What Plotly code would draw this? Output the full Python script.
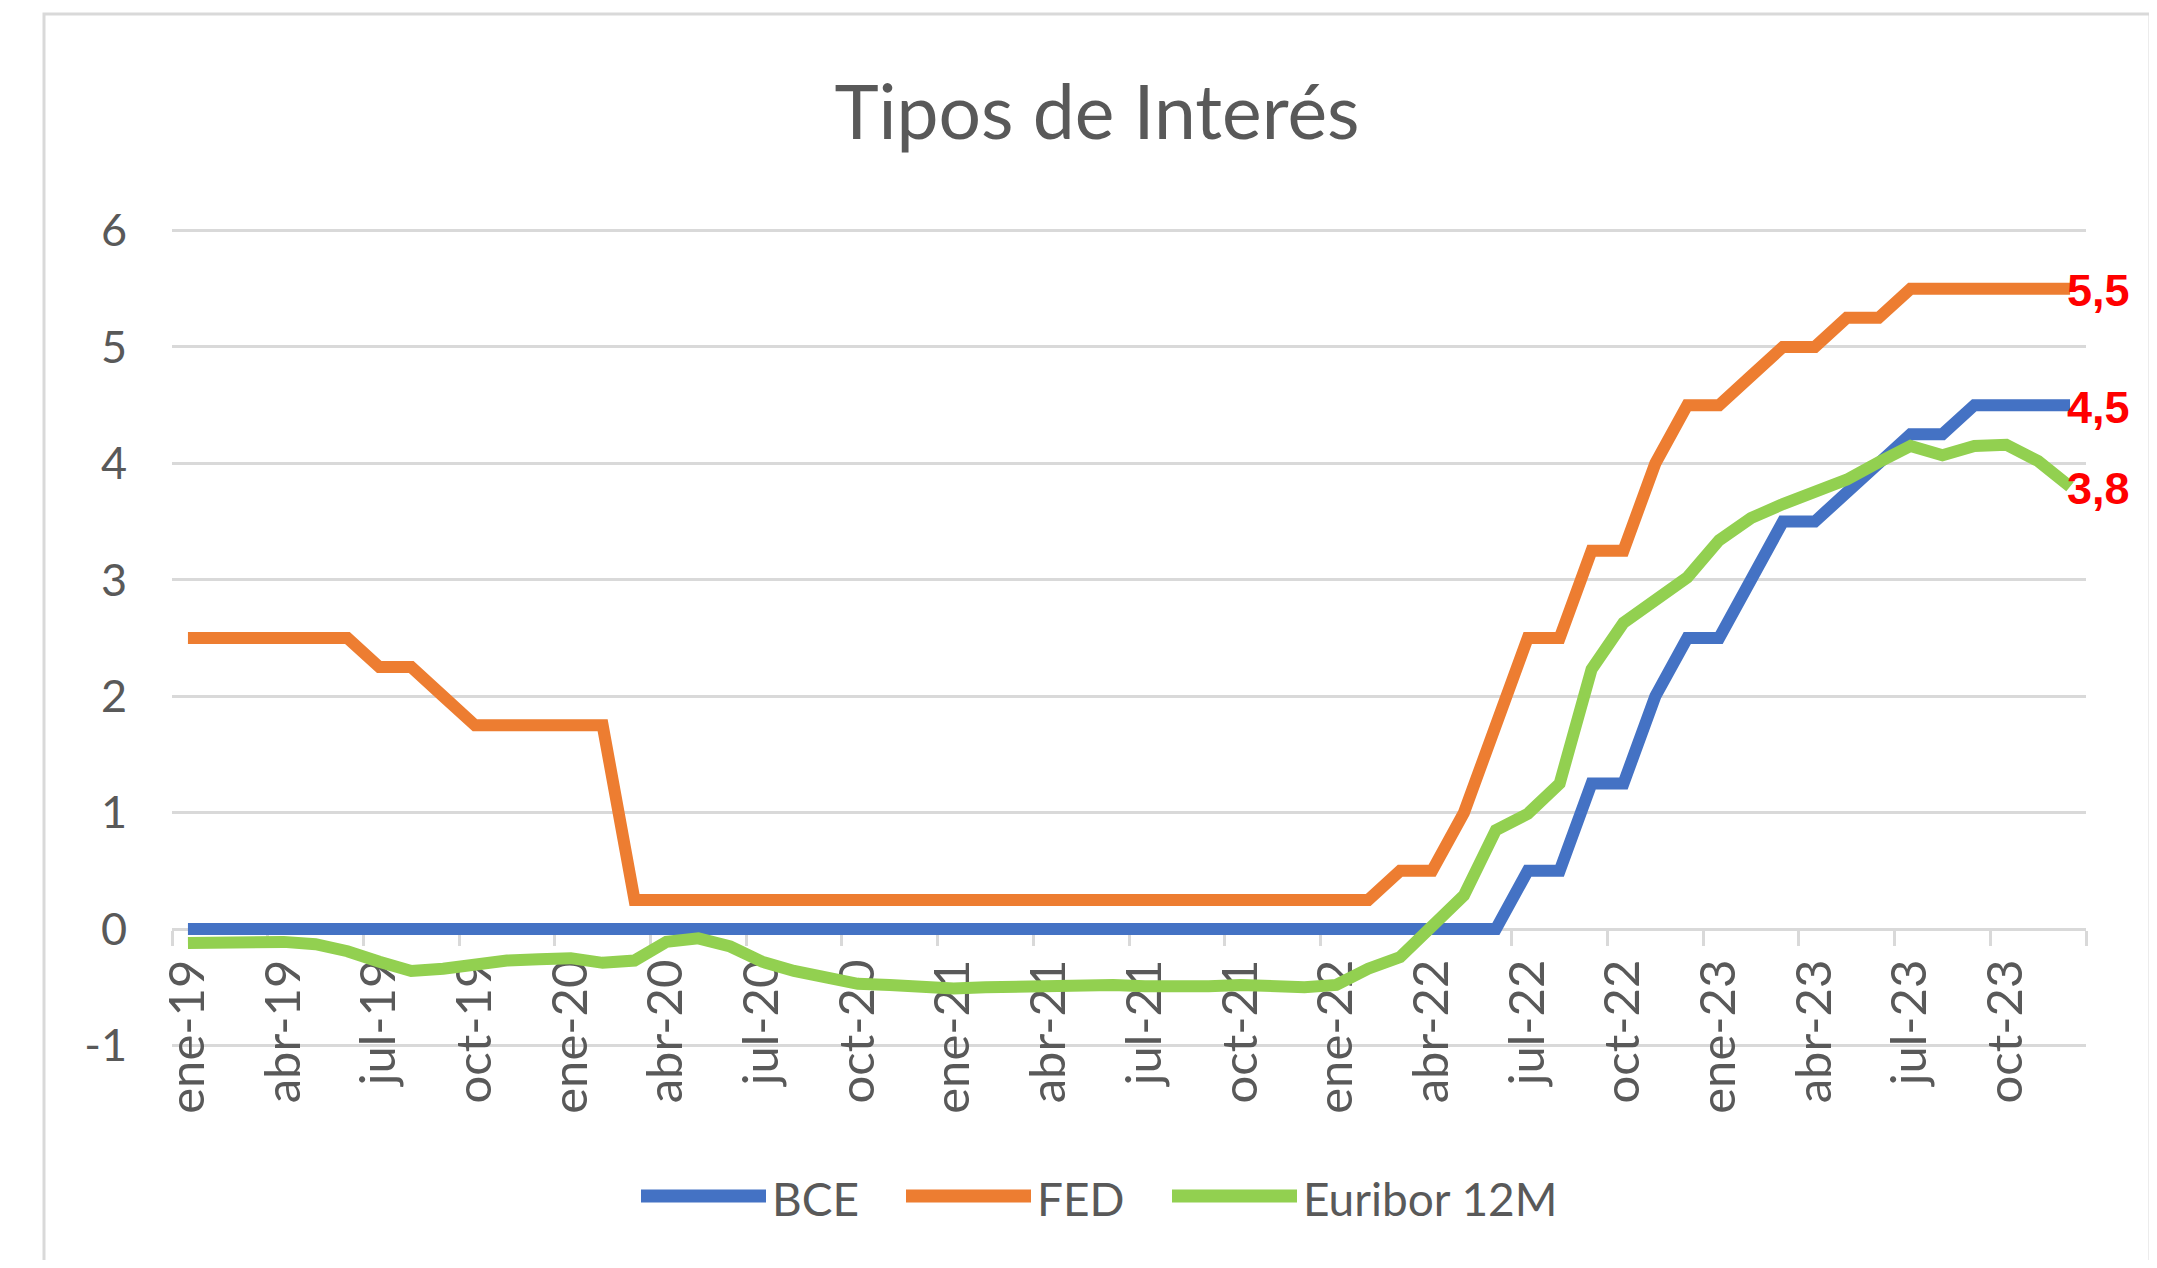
import plotly.graph_objects as go

# ---------------- data ----------------
month_abbr = ["ene", "feb", "mar", "abr", "may", "jun", "jul", "ago", "sep", "oct", "nov", "dic"]
years = ["19", "20", "21", "22", "23"]
months = [f"{m}-{y}" for y in years for m in month_abbr]

bce = [
    0, 0, 0, 0, 0, 0, 0, 0, 0, 0, 0, 0,
    0, 0, 0, 0, 0, 0, 0, 0, 0, 0, 0, 0,
    0, 0, 0, 0, 0, 0, 0, 0, 0, 0, 0, 0,
    0, 0, 0, 0, 0, 0, 0.5, 0.5, 1.25, 1.25, 2.0, 2.5,
    2.5, 3.0, 3.5, 3.5, 3.75, 4.0, 4.25, 4.25, 4.5, 4.5, 4.5, 4.5,
]
fed = [
    2.5, 2.5, 2.5, 2.5, 2.5, 2.5, 2.25, 2.25, 2.0, 1.75, 1.75, 1.75,
    1.75, 1.75, 0.25, 0.25, 0.25, 0.25, 0.25, 0.25, 0.25, 0.25, 0.25, 0.25,
    0.25, 0.25, 0.25, 0.25, 0.25, 0.25, 0.25, 0.25, 0.25, 0.25, 0.25, 0.25,
    0.25, 0.25, 0.5, 0.5, 1.0, 1.75, 2.5, 2.5, 3.25, 3.25, 4.0, 4.5,
    4.5, 4.75, 5.0, 5.0, 5.25, 5.25, 5.5, 5.5, 5.5, 5.5, 5.5, 5.5,
]
euribor = [
    -0.12, -0.11, -0.11, -0.11, -0.13, -0.19, -0.28, -0.36, -0.34, -0.30, -0.27, -0.26,
    -0.25, -0.29, -0.27, -0.11, -0.08, -0.15, -0.28, -0.36, -0.42, -0.47, -0.48, -0.50,
    -0.51, -0.50, -0.49, -0.48, -0.48, -0.48, -0.49, -0.50, -0.49, -0.48, -0.49, -0.50,
    -0.48, -0.34, -0.24, 0.01, 0.29, 0.85, 0.99, 1.25, 2.23, 2.63, 2.83, 3.02,
    3.34, 3.53, 3.65, 3.76, 3.86, 4.01, 4.15, 4.07, 4.15, 4.16, 4.02, 3.80,
]

series_names = ["BCE", "FED", "Euribor 12M"]
series_values = [bce, fed, euribor]
series_colors = ["#4472C4", "#ED7D31", "#92D050"]

title_text = "Tipos de Interés"
y_ticks = [-1, 0, 1, 2, 3, 4, 5, 6]
y_ticktext = ["-1", "0", "1", "2", "3", "4", "5", "6"]

# ---------------- layout geometry (pixels) ----------------
OFF = 8                      # default page body margin
W, H = 2157 - 2 * OFF, 1268 - 2 * OFF
Y_MIN, Y_MAX = -1, 6
PAD = 0.03                   # small padding so edge gridlines are drawn
PX_TOP, PX_BOT = 230, 1046   # page pixels of y=6 and y=-1
unit = (PX_BOT - PX_TOP) / (Y_MAX - Y_MIN)
Y_LO, Y_HI = Y_MIN - PAD, Y_MAX + PAD

ML = 172 - OFF
MR = W - (2086 - OFF)
MT = round(PX_TOP - PAD * unit) - OFF
MB = H - (round(PX_BOT + PAD * unit) - OFF)
PW = W - ML - MR
PH = H - MT - MB


def px_x(px):
    return (px - OFF - ML) / PW


def px_y(py):
    return (H - MB - (py - OFF)) / PH


GRID = "#D9D9D9"
TXT = "#595959"
FONT = "Lato, 'Open Sans', sans-serif"

fig = go.Figure()
for name, vals, col in zip(series_names, series_values, series_colors):
    fig.add_trace(go.Scatter(
        x=months, y=vals, name=name, mode="lines",
        line=dict(color=col, width=12),
        showlegend=False, hoverinfo="x+y+name",
    ))

# end-of-series red labels
for vals in series_values:
    fig.add_annotation(
        x=months[-1], y=vals[-1], xref="x", yref="y",
        text=f"{vals[-1]:.1f}".replace(".", ","),
        showarrow=False, xanchor="left", yanchor="middle", xshift=-5, yshift=-2,
        font=dict(family="'Liberation Sans', Arial, sans-serif", size=45, color="#FF0000", weight="bold"),
    )

# custom legend (long line samples like the original)
legend_starts = [641, 906, 1172]
sample_len = 125
legend_y = 1196
for name, col, x0 in zip(series_names, series_colors, legend_starts):
    fig.add_shape(
        type="line", xref="paper", yref="paper",
        x0=px_x(x0), x1=px_x(x0 + sample_len), y0=px_y(legend_y), y1=px_y(legend_y),
        line=dict(color=col, width=13),
    )
    fig.add_annotation(
        x=px_x(x0 + sample_len + 4), y=px_y(legend_y + 2), xref="paper", yref="paper",
        text=name, showarrow=False, xanchor="left", yanchor="middle",
        font=dict(family=FONT, size=46, color=TXT),
    )

# chart frame
fig.add_shape(
    type="rect", xref="paper", yref="paper",
    x0=px_x(44), x1=px_x(2150), y0=px_y(1300), y1=px_y(14),
    line=dict(color=GRID, width=3), fillcolor="rgba(0,0,0,0)", layer="below",
)

fig.update_layout(
    width=W, height=H,
    margin=dict(l=ML, r=MR, t=MT, b=MB),
    paper_bgcolor="white", plot_bgcolor="white",
    title=dict(text=title_text, x=(1097 - OFF) / W, xanchor="center",
               y=1 - (113 - OFF) / H, yanchor="middle",
               font=dict(family=FONT, size=75, color=TXT)),
    showlegend=False,
    xaxis=dict(
        type="category", categoryorder="array", categoryarray=months,
        range=[-0.5, len(months) - 0.5],
        tickmode="linear", tick0=0, dtick=3, tickson="boundaries",
        anchor="free", position=(0 - Y_LO) / (Y_HI - Y_LO),
        showline=True, linecolor=GRID, linewidth=3,
        ticks="outside", ticklen=15, tickwidth=3, tickcolor=GRID,
        tickangle=-90, tickfont=dict(family=FONT, size=49, color=TXT),
        ticklabelstandoff=9,
        showgrid=False, zeroline=False, layer="below traces",
    ),
    yaxis=dict(
        range=[Y_LO, Y_HI], tickmode="array", tickvals=y_ticks, ticktext=y_ticktext,
        showgrid=True, gridcolor=GRID, gridwidth=3,
        zeroline=False, showline=False, ticks="",
        tickfont=dict(family=FONT, size=45, color=TXT),
        ticklabelstandoff=44, layer="below traces",
    ),
)

fig.write_html("out.html")
